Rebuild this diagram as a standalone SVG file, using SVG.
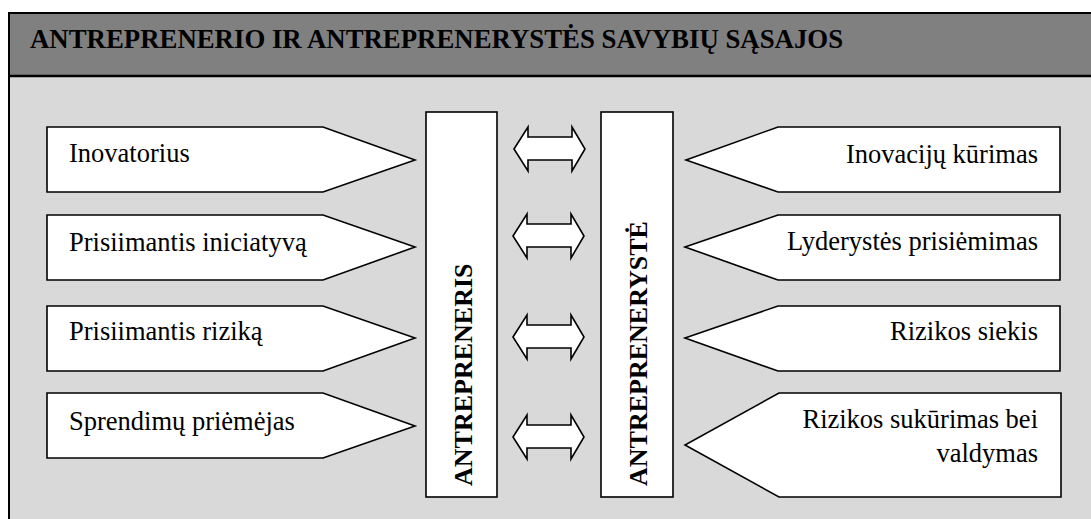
<svg xmlns="http://www.w3.org/2000/svg" width="1091" height="519" viewBox="0 0 1091 519">
<style>
.shape{fill:#fff;stroke:#000;stroke-width:1.6}
text{font-family:"Liberation Serif","Times New Roman",serif;fill:#000}
.t{font-size:26.5px}
.b{font-size:26px;font-weight:bold}
.h{font-size:26.8px;font-weight:bold}
.r{text-anchor:end}
</style>
<defs>
<polygon id="dbl" points="-35,0 -21,-22 -21,-12 23,-12 23,-22 36,0 23,22 23,11 -21,11 -21,22" class="shape"/>
</defs>
<rect width="1091" height="519" fill="#fff"/>
<g id="frame">
<rect x="9" y="13" width="1100" height="520" fill="#d9d9d9" stroke="#000" stroke-width="2"/>
<rect x="9" y="13" width="1100" height="63" fill="#808080" stroke="#000" stroke-width="2"/>
<line x1="9" y1="76" x2="1100" y2="76" stroke="#000" stroke-width="2.5"/>
<text class="h" x="30" y="48">ANTREPRENERIO IR ANTREPRENERYSTĖS SAVYBIŲ SĄSAJOS</text>
</g>
<g id="left1"><polygon class="shape" points="47,127 323,127 415,160 323,192 47,192"/><text class="t" x="69" y="162">Inovatorius</text></g>
<g id="left2"><polygon class="shape" points="47,215 323,215 415,247 323,280 47,280"/><text class="t" x="69" y="251">Prisiimantis iniciatyvą</text></g>
<g id="left3"><polygon class="shape" points="47,306 323,306 415,338 323,371 47,371"/><text class="t" x="69" y="340">Prisiimantis riziką</text></g>
<g id="left4"><polygon class="shape" points="47,393 323,393 415,426 323,458 47,458"/><text class="t" x="69" y="430">Sprendimų priėmėjas</text></g>
<g id="antrepreneris"><rect class="shape" x="426" y="112" width="71" height="385"/><text class="b" transform="translate(472,486) rotate(-90)">ANTREPRENERIS</text></g>
<g id="antreprenerystė"><rect class="shape" x="601" y="112" width="72" height="385"/><text class="b" transform="translate(647,486) rotate(-90)">ANTREPRENERYSTĖ</text></g>
<g id="right1"><polygon class="shape" points="1060,127 778,127 686,160 778,192 1060,192"/><text class="t r" x="1038" y="163">Inovacijų kūrimas</text></g>
<g id="right2"><polygon class="shape" points="1060,215 778,215 685,247 778,280 1060,280"/><text class="t r" x="1038" y="250">Lyderystės prisiėmimas</text></g>
<g id="right3"><polygon class="shape" points="1060,306 778,306 685,338 778,371 1060,371"/><text class="t r" x="1038" y="340">Rizikos siekis</text></g>
<g id="right4"><polygon class="shape" points="1061,393 779,393 685,445 779,497 1061,497"/><text class="t r" x="1038" y="428">Rizikos sukūrimas bei</text><text class="t r" x="1038" y="462">valdymas</text></g>
<g id="connectors">
<use href="#dbl" transform="translate(549,149)"/>
<use href="#dbl" transform="translate(548,236)"/>
<use href="#dbl" transform="translate(548,337)"/>
<use href="#dbl" transform="translate(548,437)"/>
</g>
</svg>
